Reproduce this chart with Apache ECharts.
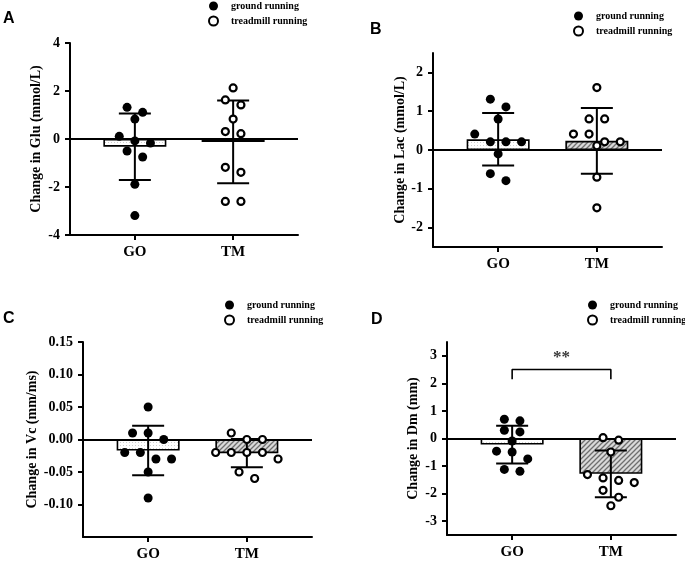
<!DOCTYPE html>
<html><head><meta charset="utf-8">
<script src="https://cdn.jsdelivr.net/npm/echarts@6/dist/echarts.min.js"></script>
<style>html,body{margin:0;padding:0;background:#fff}#c{width:685px;height:564px}</style>
</head><body><div id="c"></div>
<script>
// ---------- data ----------
const categories = ['GO', 'TM'];
const legendNames = ['ground running', 'treadmill running'];
const panelLetters = ['A', 'B', 'C', 'D'];
const yTitles = ['Change in Glu (mmol/L)', 'Change in Lac (mmol/L)', 'Change in Vc (mm/ms)', 'Change in Dm (mm)'];

const gluGO = [1.32, 1.11, 0.83, 0.11, -0.08, -0.17, -0.50, -0.75, -1.89, -3.19];
const gluTM = [2.13, 1.63, 1.42, 0.83, 0.31, 0.22, -1.18, -1.39, -2.60, -2.60];
const lacGO = [1.31, 1.11, 0.80, 0.41, 0.21, 0.21, 0.21, -0.10, -0.61, -0.79];
const lacTM = [1.61, 0.80, 0.80, 0.41, 0.41, 0.21, 0.21, 0.11, -0.70, -1.49];
const vcGO = [0.05, 0.01, 0.01, 0.00, -0.02, -0.02, -0.03, -0.03, -0.05, -0.09];
const vcTM = [0.01, 0.00, 0.00, -0.02, -0.02, -0.02, -0.02, -0.03, -0.05, -0.06];
const dmGO = [0.70, 0.64, 0.30, 0.24, -0.09, -0.46, -0.49, -0.74, -1.12, -1.19];
const dmTM = [0.03, -0.06, -0.49, -1.31, -1.43, -1.52, -1.60, -1.88, -2.13, -2.44];

const gluTicks = [-4, -2, 0, 2, 4];
const lacTicks = [-2, -1, 0, 1, 2];
const vcTicks = [-0.10, -0.05, 0, 0.05, 0.10, 0.15];
const dmTicks = [-3, -2, -1, 0, 1, 2, 3];
const yMins = [-4, -2.5, -0.15, -3.5];
const yMaxs = [4, 2.5, 0.15, 3.5];
const tickDecimals = [0, 0, 2, 0];
const sigLabels = [null, null, null, '**'];
const sigLevels = [null, null, null, 2.5];
const sigDrops = [null, null, null, 0.35];

// ---------- layout / style ----------
const groupsGO = [gluGO, lacGO, vcGO, dmGO];
const groupsTM = [gluTM, lacTM, vcTM, dmTM];
const tickSets = [gluTicks, lacTicks, vcTicks, dmTicks];

const grids = [
  {left: 70, top: 43, width: 228, height: 192},
  {left: 433, top: 53, width: 229, height: 194},
  {left: 83, top: 342, width: 229, height: 195},
  {left: 447, top: 342, width: 229, height: 193}
];
const nameGaps = [27, 26, 44, 27];
const letterPos = [[3, 11], [370, 22], [3, 311], [371, 312]];
const legendPos = [[208, 0], [573, 10], [224, 299], [587, 299]];
const SERIF = '"Liberation Serif", "Times New Roman", serif';
const SANS = '"Liberation Sans", Arial, sans-serif';
const DOT = 9, STEP = 15.6;

function mean(a) { return a.reduce((s, v) => s + v, 0) / a.length; }
function sd(a) { const m = mean(a); return Math.sqrt(a.reduce((s, v) => s + (v - m) * (v - m), 0) / (a.length - 1)); }

function makePattern(type) {
  const c = document.createElement('canvas');
  const ctx = c.getContext('2d');
  if (type === 'dots') {
    c.width = 3; c.height = 3;
    ctx.fillStyle = '#ffffff'; ctx.fillRect(0, 0, 3, 3);
    ctx.fillStyle = '#cfcfcf'; ctx.fillRect(0, 1, 1, 1);
  } else {
    c.width = 5; c.height = 5;
    ctx.fillStyle = '#d9d9d9'; ctx.fillRect(0, 0, 5, 5);
    ctx.strokeStyle = '#6e6e6e'; ctx.lineWidth = 1.3;
    ctx.beginPath();
    ctx.moveTo(-1, 6); ctx.lineTo(6, -1);
    ctx.moveTo(-1, 1); ctx.lineTo(1, -1);
    ctx.moveTo(4, 6); ctx.lineTo(6, 4);
    ctx.stroke();
  }
  return {image: c, repeat: 'repeat'};
}
const dotFill = makePattern('dots');
const hatchFill = makePattern('hatch');

const chart = echarts.init(document.getElementById('c'), null, {renderer: 'canvas'});

function fmt(i) { return v => (Math.abs(v) < 1e-9 ? 0 : v).toFixed(tickDecimals[i]); }

const option = {
  animation: false,
  backgroundColor: '#fff',
  grid: grids.map(g => Object.assign({containLabel: false}, g)),
  title: panelLetters.map((t, i) => ({
    text: t, left: letterPos[i][0], top: letterPos[i][1], padding: 0,
    textStyle: {fontFamily: SANS, fontWeight: 'bold', fontSize: 16, color: '#000'}
  })),
  legend: legendPos.map(p => ({
    orient: 'vertical', left: p[0], top: p[1], padding: 0,
    itemWidth: 9, itemHeight: 9, itemGap: 3, selectedMode: false,
    data: legendNames,
    textStyle: {fontFamily: SERIF, fontWeight: 'bold', fontSize: 10, color: '#000', lineHeight: 12, padding: [0, 0, 0, 8]}
  })),
  xAxis: grids.map((g, i) => ({
    type: 'value', gridIndex: i, min: 0.34, max: 2.66,
    axisLine: {show: true, onZero: false, lineStyle: {color: '#000', width: 2}},
    axisTick: {show: true, customValues: [1, 2], length: 5, lineStyle: {color: '#000', width: 2}},
    axisLabel: {customValues: [1, 2], formatter: v => categories[Math.round(v) - 1] || '',
      fontFamily: SERIF, fontWeight: 'bold', fontSize: 15, color: '#000', margin: 10},
    splitLine: {show: false}
  })),
  yAxis: grids.map((g, i) => ({
    type: 'value', gridIndex: i, min: yMins[i], max: yMaxs[i],
    name: yTitles[i], nameLocation: 'middle', nameGap: nameGaps[i], nameRotate: 90,
    nameTextStyle: {fontFamily: SERIF, fontWeight: 'bold', fontSize: 14, color: '#000'},
    axisLine: {show: true, onZero: false, lineStyle: {color: '#000', width: 2}},
    axisTick: {show: true, customValues: tickSets[i], length: 5, lineStyle: {color: '#000', width: 2}},
    axisLabel: {customValues: tickSets[i], formatter: fmt(i),
      fontFamily: SERIF, fontWeight: 'bold', fontSize: 14, color: '#000', margin: 10},
    splitLine: {show: false}
  })),
  series: []
};

grids.forEach((g, i) => {
  const go = groupsGO[i], tm = groupsTM[i];
  option.series.push({
    type: 'bar', xAxisIndex: i, yAxisIndex: i, barWidth: 63, z: 2,
    data: [
      {value: [1, mean(go)], itemStyle: {color: dotFill}},
      {value: [2, mean(tm)], itemStyle: {color: hatchFill}}
    ],
    itemStyle: {borderColor: '#000', borderWidth: 1.6},
    markLine: {silent: true, symbol: 'none', label: {show: false},
      lineStyle: {color: '#000', width: 2, type: 'solid'}, data: [{yAxis: 0}]}
  });
  option.series.push({
    type: 'custom', xAxisIndex: i, yAxisIndex: i, z: 3,
    data: [[1, mean(go), sd(go)], [2, mean(tm), sd(tm)]],
    renderItem: (params, api) => {
      const x = api.value(0), m = api.value(1), s = api.value(2);
      const t = api.coord([x, m + s]), b = api.coord([x, m - s]);
      const hw = 16, st = {stroke: '#000', lineWidth: 2};
      return {type: 'group', children: [
        {type: 'line', shape: {x1: t[0], y1: t[1], x2: b[0], y2: b[1]}, style: st},
        {type: 'line', shape: {x1: t[0] - hw, y1: t[1], x2: t[0] + hw, y2: t[1]}, style: st},
        {type: 'line', shape: {x1: b[0] - hw, y1: b[1], x2: b[0] + hw, y2: b[1]}, style: st}
      ]};
    }
  });
  option.series.push({
    id: 'go' + i, name: legendNames[0], type: 'scatter', xAxisIndex: i, yAxisIndex: i, z: 5,
    symbol: 'circle', symbolSize: 9, itemStyle: {color: '#000', opacity: 1},
    data: go.map(v => [1, v])
  });
  option.series.push({
    id: 'tm' + i, name: legendNames[1], type: 'scatter', xAxisIndex: i, yAxisIndex: i, z: 5,
    symbol: 'circle', symbolSize: 7, itemStyle: {color: '#fff', borderColor: '#000', borderWidth: 2.2, opacity: 1},
    data: tm.map(v => [2, v])
  });
  if (sigLabels[i]) {
    const y = sigLevels[i], d = sigDrops[i];
    option.series.push({
      type: 'line', xAxisIndex: i, yAxisIndex: i, z: 4, symbol: 'none', silent: true,
      lineStyle: {color: '#000', width: 1.6},
      data: [[1, y - d], [1, y], [2, y], [2, y - d]]
    });
    option.series.push({
      type: 'scatter', xAxisIndex: i, yAxisIndex: i, z: 4, symbolSize: 1, silent: true,
      itemStyle: {color: 'rgba(0,0,0,0)'},
      label: {show: true, position: 'top', distance: 3, formatter: sigLabels[i],
        fontFamily: SERIF, fontWeight: 'bold', fontSize: 17, color: '#000'},
      data: [[1.5, y]]
    });
  }
});

chart.setOption(option);

// beeswarm-style horizontal spread of points, computed from the rendered scales
function swarm(values, gi, center) {
  const ypx = v => chart.convertToPixel({gridIndex: gi}, [center, v])[1];
  const pxPerX = chart.convertToPixel({gridIndex: gi}, [2, 0])[0] - chart.convertToPixel({gridIndex: gi}, [1, 0])[0];
  const sorted = values.slice().sort((a, b) => b - a);
  const rows = []; let cur = null;
  sorted.forEach(v => {
    if (cur && Math.abs(ypx(v) - ypx(cur[0])) < DOT) cur.push(v);
    else { cur = [v]; rows.push(cur); }
  });
  const out = [];
  rows.forEach(r => r.forEach((v, k) => {
    const off = (k - (r.length - 1) / 2) * STEP;
    out.push([center + off / pxPerX, v]);
  }));
  return out;
}
const upd = [];
grids.forEach((g, i) => {
  upd.push({id: 'go' + i, data: swarm(groupsGO[i], i, 1)});
  upd.push({id: 'tm' + i, data: swarm(groupsTM[i], i, 2)});
});
chart.setOption({series: upd});
</script>
</body></html>
